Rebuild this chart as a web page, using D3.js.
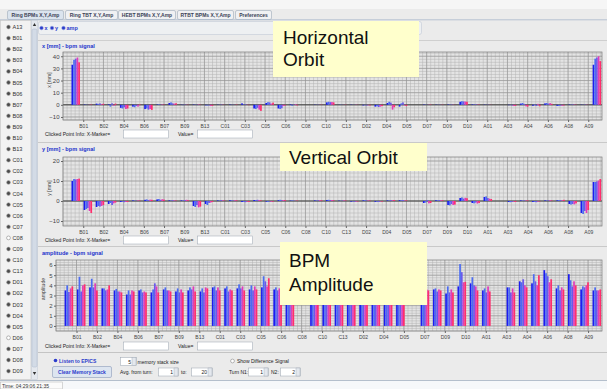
<!DOCTYPE html>
<html><head><meta charset="utf-8">
<script src="https://cdn.jsdelivr.net/npm/d3@7"></script>
<style>
body{margin:0;background:#ebebeb;}
svg text{font-family:"Liberation Sans",Arial,sans-serif;}
</style></head>
<body><svg id="c" width="607" height="389"></svg>
<script>
// ---------------- DATA ----------------
const bpmNames = ["A13","B01","B02","B03","B04","B05","B06","B07","B08","B09","B10","B13",
  "C01","C02","C03","C04","C05","C06","C07","C08","C09","C10","C13",
  "D01","D02","D03","D04","D05","D06","D07","D08","D09","D10","D13",
  "A01","A02","A03","A04","A05","A06","A07","A08","A09","A10"];
const listNames = ["A13","B01","B02","B03","B04","B05","B06","B07","B08","B09","B10","B13",
  "C01","C02","C03","C04","C05","C06","C07","C08","C09","C10","C13",
  "D01","D02","D03","D04","D05","D06","D07","D08","D09"];
const listUnchecked = ["C08","D06"];
const tabLabels = ["Ring BPMs X,Y,Amp","Ring TBT X,Y,Amp","HEBT BPMs X,Y,Amp","RTBT BPMs X,Y,Amp","Preferences"];
const xTickValues = d3.range(26).map(k => 1 + k * 5 / 3);
const yTicksX = [-10, 0, 10, 20, 30, 40];
const yTicksY = [-10, 0, 10, 20];
const yTicksAmp = [0, 1, 2, 3, 4, 5, 6];
// five most recent turns (memory stack) per BPM
const xOrbit = [
 [33,37,38,39,35],[0.3,0.2,0.1,-0.2,0.3],[1.0,0.8,1.2,0.6,0.9],[0.5,-1.5,1.2,-0.8,1.0],
 [-2.5,-3.0,-2.0,-3.5,-3.0],[-1.5,-2.0,-1.0,-1.5,0.5],[-3.5,-3.0,-4.0,-3.5,-4.2],[0.3,0.5,0.2,0.4,0.3],
 [1.5,2.0,1.2,1.0,1.3],[0.2,-0.3,0.3,0.2,-0.2],[0.3,0.2,-0.3,0.4,0.2],[-0.4,-0.6,-0.5,-1.0,-0.8],
 [0.2,0.1,0.3,0.2,0.1],[0.3,-0.2,0.2,0.1,0.3],[1.2,0.3,0.5,0.2,-0.3],[-3.0,-3.5,-2.5,-4.0,-5.0],
 [1.5,2.2,2.0,1.0,1.8],[-3.0,-3.5,-2.8,-1.0,-0.5],[0.5,-0.8,0.3,0.6,-0.5],null,
 [0.2,0.1,0.2,0.1,0.2],[2.0,2.5,2.2,2.3,2.0],[0.1,0.2,0.1,0.1,0.2],[0.2,0.1,0.1,0.2,0.1],
 [-0.5,-0.3,-0.6,-0.4,-0.5],[-1.5,-1.2,-1.8,-1.5,-1.0],[1.5,2.5,1.8,-4.0,-2.0],[-1.5,1.2,2.0,-0.5,-1.0],
 null,[0.3,0.2,0.1,0.2,0.3],[0.2,0.1,0.2,0.1,0.2],[0.3,0.2,0.3,0.2,0.1],
 [2.5,3.0,2.8,2.7,2.5],[0.4,0.3,0.5,0.2,0.3],[0.2,0.1,0.2,0.1,0.1],null,
 [-0.3,-0.2,-0.5,-1.0,-0.8],[1.0,1.5,0.8,-1.2,-1.5],[-0.8,0.5,-1.0,0.8,-1.2],[1.2,1.5,1.0,1.4,0.8],
 [-0.8,-1.0,-0.6,-0.8,-0.5],[0.3,0.2,0.4,0.3,0.2],[0.2,0.1,0.3,0.2,0.1],[33,38,39,40,36]];
const yOrbit = [
 [10.0,11.0,10.8,11.0,11.2],[-4.5,-4.0,-3.5,-5.0,-6.0],[-3.0,-2.5,-2.8,-2.5,-2.0],[-1.5,-1.0,-2.0,-1.2,-0.8],
 [-0.5,-0.3,-0.6,-0.4,-0.5],[0.3,0.2,0.1,0.3,0.2],[0.6,0.8,0.5,0.7,0.6],[0.8,1.0,0.6,0.9,0.7],
 [0.3,0.2,0.4,0.3,0.2],[0.3,0.2,0.5,0.6,0.4],[-2.5,-3.0,-2.0,-3.2,-2.8],[-1.5,-2.0,-1.0,-0.8,-0.5],
 [0.3,0.2,0.4,0.3,0.2],[0.4,0.3,0.2,0.4,0.3],[-0.5,-0.4,-0.6,-0.3,-0.5],[0.5,0.4,0.6,0.5,0.3],
 [-0.3,-0.5,-0.2,-0.4,-0.3],[0.4,0.6,0.3,0.5,0.4],[0.2,0.3,0.2,0.1,0.2],null,
 [0.3,0.2,0.3,0.4,0.3],[0.5,0.6,0.4,0.5,0.3],[0.2,0.1,0.2,0.3,0.2],[-0.3,-0.2,-0.4,-0.3,-0.2],
 [0.3,0.4,0.2,0.3,0.2],[-0.4,-0.3,-0.5,-0.2,-0.3],[0.3,0.2,0.4,0.3,0.5],[0.4,0.3,0.5,0.2,0.3],
 null,[-1.0,-0.8,0.5,-1.2,-1.0],[0.4,0.3,0.5,0.4,0.3],[-2.0,-2.2,-1.5,-2.0,-1.8],
 [1.5,1.8,1.2,1.6,1.4],[-1.0,-1.2,-0.8,-1.3,-1.0],[2.0,2.3,1.5,1.2,1.0],null,
 [-0.5,-0.6,-0.4,-0.3,-0.5],[0.3,0.2,0.3,0.2,0.3],[-0.5,-0.4,-0.6,-0.3,-0.2],[0.3,0.2,0.3,0.4,0.2],
 [0.3,0.5,0.4,0.3,0.6],[-1.5,-1.8,-1.5,-1.7,-1.2],[-6.0,-6.5,-5.0,-6.0,-4.5],[9.5,9.5,9.8,10.2,11.0]];
const amplitude = [
 [3.5,4.0,3.35,3.7,3.9],[3.6,4.85,3.4,4.0,4.1],[3.8,4.65,3.8,4.2,3.5],[3.7,3.7,3.5,3.6,4.0],
 [3.5,3.65,3.4,3.4,3.3],[3.1,3.5,3.1,3.5,3.4],[3.5,3.6,3.3,3.4,3.3],[3.3,3.6,4.2,3.9,3.3],
 [3.6,3.8,3.5,3.5,3.4],[3.4,3.7,3.3,3.6,3.3],[3.5,3.8,3.6,3.9,3.4],[3.4,3.7,3.3,3.8,3.7],
 [3.8,3.9,3.5,3.8,3.5],[3.7,3.9,3.4,3.6,3.5],[3.7,4.1,3.7,3.9,3.5],[3.6,4.0,3.5,3.9,3.6],
 [3.8,4.9,4.4,3.9,4.7],[3.6,3.8,3.5,3.7,3.4],[3.5,3.7,3.4,3.6,3.5],null,
 [3.6,3.8,3.5,3.7,3.4],[3.5,3.9,3.6,3.8,3.5],[3.7,3.8,3.4,3.6,3.5],[3.6,3.9,3.5,3.7,3.6],
 [3.5,3.7,3.4,3.6,3.4],[3.7,3.8,3.5,3.8,3.5],[3.6,3.9,3.6,3.7,3.5],[3.5,3.7,3.4,3.6,3.6],
 null,[3.5,3.7,3.4,3.6,3.5],[3.6,3.7,3.4,3.6,3.5],[3.2,3.9,3.3,3.6,3.3],
 [3.9,6.1,5.3,4.3,4.35],[4.2,4.8,4.0,3.9,3.5],[3.5,3.7,3.3,3.9,3.4],null,
 [3.8,3.8,3.3,3.7,3.3],[4.4,4.3,4.6,4.0,3.8],[4.2,5.1,4.4,4.0,5.0],[5.5,5.2,4.9,4.3,4.6],
 [3.7,4.0,3.5,3.8,3.6],[5.1,4.5,3.9,4.4,4.0],[3.6,3.9,3.8,4.0,4.3],[3.5,3.8,3.5,3.5,3.6]];
const turnColors = ["#1c1cf0","#4c6cf2","#6a58ec","#e03cba","#ff2e6c"];

// ---------------- DRAW ----------------
const svg = d3.select("#c");
svg.append("rect").attr("width",607).attr("height",389).attr("fill","#ebebeb");
svg.append("rect").attr("width",607).attr("height",9).attr("fill","#f6f6f6");

// tabs
const tabX = [7,65,118,177,235], tabW = [56,52,57,56,36];
const tabs = svg.append("g");
tabLabels.forEach((t,i)=>{
  tabs.append("rect").attr("x",tabX[i]+0.5).attr("y",10.5).attr("width",tabW[i]).attr("height",9)
    .attr("rx",1.5).attr("fill", i===0 ? "#dbe4ee" : "#f0f1f3").attr("stroke","#a9b4c2").attr("stroke-width",0.7);
  tabs.append("text").attr("x",tabX[i]+tabW[i]/2+0.5).attr("y",17.3).attr("text-anchor","middle")
    .attr("font-size",5).attr("font-weight","bold").attr("fill","#3a4256").text(t);
});
svg.append("line").attr("x1",0).attr("x2",607).attr("y1",19.8).attr("y2",19.8).attr("stroke","#a8b8cc").attr("stroke-width",0.8);

// left list
svg.append("rect").attr("x",0.5).attr("y",20.5).attr("width",30.5).attr("height",359).attr("fill","#f2f2f2").attr("stroke","#c4c4c4").attr("stroke-width",0.6);
listNames.forEach((n,i)=>{
  const cy = 27 + 11.1*i;
  const off = listUnchecked.includes(n);
  svg.append("circle").attr("cx",8.5).attr("cy",cy).attr("r",1.9)
    .attr("fill", off ? "#fff" : "#4a4a4a").attr("stroke", off ? "#888" : "#aaa").attr("stroke-width",0.6);
  svg.append("text").attr("x",12.5).attr("y",cy+2).attr("font-size",5.6).attr("fill","#333").text(n);
});
// scrollbar
svg.append("rect").attr("x",31.5).attr("y",20.5).attr("width",6).attr("height",359).attr("fill","#e4e8ee").attr("stroke","#c2cad4").attr("stroke-width",0.5);
svg.append("rect").attr("x",32).attr("y",29).attr("width",5).attr("height",338).attr("rx",1.5).attr("fill","#d3dbe6").attr("stroke","#aebbcc").attr("stroke-width",0.5);
svg.append("path").attr("d","M32.8,26 L34.5,23 L36.2,26 Z").attr("fill","#333");
svg.append("path").attr("d","M32.8,372 L34.5,375 L36.2,372 Z").attr("fill","#333");

// top radio row
svg.append("rect").attr("x",38.5).attr("y",21.5).attr("width",383).attr("height",13).attr("rx",2)
  .attr("fill","#eef0f2").attr("stroke","#c2cad6").attr("stroke-width",0.6);
[["x",41.5],["y",52],["amp",63.5]].forEach(([t,cx])=>{
  svg.append("circle").attr("cx",cx).attr("cy",28).attr("r",1.8).attr("fill","#2a3ccc").attr("stroke","#8899dd").attr("stroke-width",0.5);
  svg.append("text").attr("x",cx+3).attr("y",30).attr("font-size",5.5).attr("font-weight","bold").attr("fill","#2a3ccc").text(t);
});
svg.append("line").attr("x1",38).attr("x2",607).attr("y1",40.5).attr("y2",40.5).attr("stroke","#cfcfcf");

function infoRow(yc){
  const g = svg.append("g");
  g.append("text").attr("x",45).attr("y",yc+2).attr("font-size",5).attr("fill","#222").text("Clicked Point Info: X-Marker=");
  g.append("rect").attr("x",123.5).attr("y",yc-4).attr("width",45).attr("height",8).attr("fill","#fff").attr("stroke","#9aa4b0").attr("stroke-width",0.5);
  g.append("text").attr("x",178).attr("y",yc+2).attr("font-size",5).attr("fill","#222").text("Value=");
  g.append("rect").attr("x",197.5).attr("y",yc-4).attr("width",55).attr("height",8).attr("fill","#fff").attr("stroke","#9aa4b0").attr("stroke-width",0.5);
}

let clipId = 0;
function chart(o){
  const right = 602;
  const x = d3.scaleLinear().domain([-0.67, 43.8]).range([o.left, right]);
  const y = d3.scaleLinear().domain(o.yDomain).range([o.bottom, o.top]);
  const g = svg.append("g");
  g.append("text").attr("x",42).attr("y",o.titleY).attr("font-size",5.6).attr("font-weight","bold").attr("fill","#2233cc").text(o.title);
  g.append("rect").attr("x",o.left).attr("y",o.top).attr("width",right-o.left).attr("height",o.bottom-o.top).attr("fill","#e4e4e4");
  // minor grid
  const vMinor = d3.range(-5, 130).map(k => 1 + k/3).filter(v => v > x.domain()[0] && v < x.domain()[1]);
  g.selectAll(null).data(vMinor).join("line").attr("x1",d=>x(d)).attr("x2",d=>x(d)).attr("y1",o.top).attr("y2",o.bottom)
    .attr("stroke","#b2b2b2").attr("stroke-width",0.5);
  const hMinor = d3.range(Math.ceil(o.yDomain[0]/o.minor)*o.minor, o.yDomain[1], o.minor);
  g.selectAll(null).data(hMinor).join("line").attr("x1",o.left).attr("x2",right).attr("y1",d=>y(d)).attr("y2",d=>y(d))
    .attr("stroke","#b2b2b2").attr("stroke-width",0.5);
  // major grid
  g.selectAll(null).data(xTickValues).join("line").attr("x1",d=>x(d)).attr("x2",d=>x(d)).attr("y1",o.top).attr("y2",o.bottom)
    .attr("stroke","#949494").attr("stroke-width",0.6);
  g.selectAll(null).data(o.yTicks).join("line").attr("x1",o.left).attr("x2",right).attr("y1",d=>y(d)).attr("y2",d=>y(d))
    .attr("stroke","#949494").attr("stroke-width",0.6);
  if (o.zero) g.append("line").attr("x1",o.left).attr("x2",right).attr("y1",y(0)).attr("y2",y(0)).attr("stroke","#333").attr("stroke-width",0.9);
  // bars
  const id = "clip" + (clipId++);
  g.append("clipPath").attr("id",id).append("rect").attr("x",o.left).attr("y",o.top).attr("width",right-o.left).attr("height",o.bottom-o.top);
  const bars = [];
  o.data.forEach((vals,i)=>{ if(vals) vals.forEach((v,k)=>bars.push({i,k,v})); });
  const bw = 0.14;
  g.append("g").attr("clip-path",`url(#${id})`).selectAll("rect").data(bars).join("rect")
    .attr("x",d=>x(d.i + 0.03 + d.k*bw)).attr("width",x(bw)-x(0))
    .attr("y",d=>y(Math.max(0,d.v))).attr("height",d=>Math.abs(y(d.v)-y(0)))
    .attr("fill",d=>turnColors[d.k]);
  g.append("rect").attr("x",o.left).attr("y",o.top).attr("width",right-o.left).attr("height",o.bottom-o.top)
    .attr("fill","none").attr("stroke","#7a7a7a").attr("stroke-width",0.7);
  // axes
  const ya = g.append("g").attr("transform",`translate(${o.left},0)`)
    .call(d3.axisLeft(y).tickValues(o.yTicks).tickFormat(d3.format("d")).tickSize(2).tickPadding(1.5));
  ya.select(".domain").remove();
  ya.selectAll("text").attr("font-size",6).attr("fill","#444").attr("font-family","Liberation Sans, Arial");
  ya.selectAll("line").attr("stroke","#666");
  const xa = g.append("g").attr("transform",`translate(0,${o.bottom})`)
    .call(d3.axisBottom(x).tickValues(xTickValues).tickSize(2).tickPadding(2.5)
      .tickFormat(v => bpmNames[Math.floor(v + 1e-6)]));
  xa.select(".domain").remove();
  xa.selectAll("text").attr("font-size",5).attr("fill","#444").attr("font-family","Liberation Sans, Arial");
  xa.selectAll("line").attr("stroke","#666");
  g.append("text").attr("transform",`translate(${o.labelX},${o.labelY}) rotate(-90)`).attr("text-anchor","middle")
    .attr("font-size",5.2).attr("fill","#444").text(o.ylabel);
  infoRow(o.infoY);
}

chart({left:63, top:52, bottom:120, yDomain:[-12.5,43.5], yTicks:yTicksX, minor:2.5, zero:true,
  data:xOrbit, title:"x [mm] - bpm signal", titleY:48, ylabel:"x [mm]", labelX:51, labelY:80, infoY:134});
svg.append("line").attr("x1",38).attr("x2",607).attr("y1",142.5).attr("y2",142.5).attr("stroke","#c9c9c9").attr("stroke-width",1.2);
chart({left:63, top:157, bottom:226, yDomain:[-12.5,22], yTicks:yTicksY, minor:2, zero:true,
  data:yOrbit, title:"y [mm] - bpm signal", titleY:151, ylabel:"y [mm]", labelX:51, labelY:188, infoY:240});
svg.append("line").attr("x1",38).attr("x2",607).attr("y1",246.5).attr("y2",246.5).attr("stroke","#c9c9c9").attr("stroke-width",1.2);
chart({left:56, top:260, bottom:331, yDomain:[-0.5,6.5], yTicks:yTicksAmp, minor:0.25, zero:false,
  data:amplitude, title:"amplitude - bpm signal", titleY:255, ylabel:"amplitude", labelX:45, labelY:289, infoY:346});

// bottom controls
svg.append("line").attr("x1",38).attr("x2",607).attr("y1",352.5).attr("y2",352.5).attr("stroke","#c4c4c4").attr("stroke-width",1);
svg.append("circle").attr("cx",55.5).attr("cy",360.5).attr("r",1.8).attr("fill","#2a3ccc");
svg.append("text").attr("x",59).attr("y",362.5).attr("font-size",5).attr("font-weight","bold").attr("fill","#2a3ccc").text("Listen to EPICS");
svg.append("rect").attr("x",52.5).attr("y",366.5).attr("width",59).attr("height",11).attr("rx",1.5).attr("fill","#dde5f0").attr("stroke","#8b9bb8").attr("stroke-width",0.6);
svg.append("text").attr("x",82).attr("y",374).attr("text-anchor","middle").attr("font-size",5).attr("font-weight","bold").attr("fill","#2a3ccc").text("Clear Memory Stack");
function spin(x0,w,yc,val){
  svg.append("rect").attr("x",x0+0.5).attr("y",yc-4).attr("width",w).attr("height",8).attr("fill","#fff").attr("stroke","#9aa4b0").attr("stroke-width",0.5);
  svg.append("text").attr("x",x0+w-5).attr("y",yc+2).attr("text-anchor","end").attr("font-size",5).attr("fill","#222").text(val);
  svg.append("rect").attr("x",x0+w-4).attr("y",yc-4).attr("width",4).attr("height",8).attr("fill","#e4e8ee").attr("stroke","#9aa4b0").attr("stroke-width",0.4);
}
spin(120,16,361.5,"5");
svg.append("text").attr("x",137.5).attr("y",363.5).attr("font-size",5).attr("fill","#222").text("memory stack size");
svg.append("text").attr("x",120).attr("y",374).attr("font-size",5).attr("fill","#222").text("Avg. from turn:");
spin(158,20,372,"1");
svg.append("text").attr("x",181).attr("y",374).attr("font-size",5).attr("fill","#222").text("to:");
spin(191,21,372,"20");
svg.append("circle").attr("cx",232.5).attr("cy",361).attr("r",1.9).attr("fill","#fff").attr("stroke","#888").attr("stroke-width",0.6);
svg.append("text").attr("x",237).attr("y",363).attr("font-size",5).attr("fill","#222").text("Show Difference Signal");
svg.append("text").attr("x",229).attr("y",374).attr("font-size",5).attr("fill","#222").text("Turn N1:");
spin(248,20,372,"1");
svg.append("text").attr("x",271).attr("y",374).attr("font-size",5).attr("fill","#222").text("N2:");
spin(280,20,372,"2");

// status bar
svg.append("rect").attr("x",0).attr("y",380).attr("width",607).attr("height",9).attr("fill","#f6f8fa");
svg.append("line").attr("x1",0).attr("x2",607).attr("y1",380.5).attr("y2",380.5).attr("stroke","#b4bfcc");
svg.append("rect").attr("x",0.5).attr("y",382).attr("width",62).attr("height",7).attr("fill","#fbfbfb").attr("stroke","#b0b0b0").attr("stroke-width",0.5);
svg.append("text").attr("x",2).attr("y",387.5).attr("font-size",5).attr("fill","#333").text("Time: 04:29:06 21:35");

// yellow annotation callouts
function callout(x0,y0,w,h,lines,tx,ty,lh){
  svg.append("rect").attr("x",x0).attr("y",y0).attr("width",w).attr("height",h).attr("fill","#ffffcc");
  lines.forEach((t,i)=>svg.append("text").attr("x",tx).attr("y",ty+i*lh).attr("font-size",19).attr("fill","#111").text(t));
}
callout(273,21,146,56,["Horizontal","Orbit"],283,44,22);
callout(280,143,147,28,["Vertical Orbit"],289,164,0);
callout(280,242,147,63,["BPM","Amplitude"],289,267,24);
</script></body></html>
